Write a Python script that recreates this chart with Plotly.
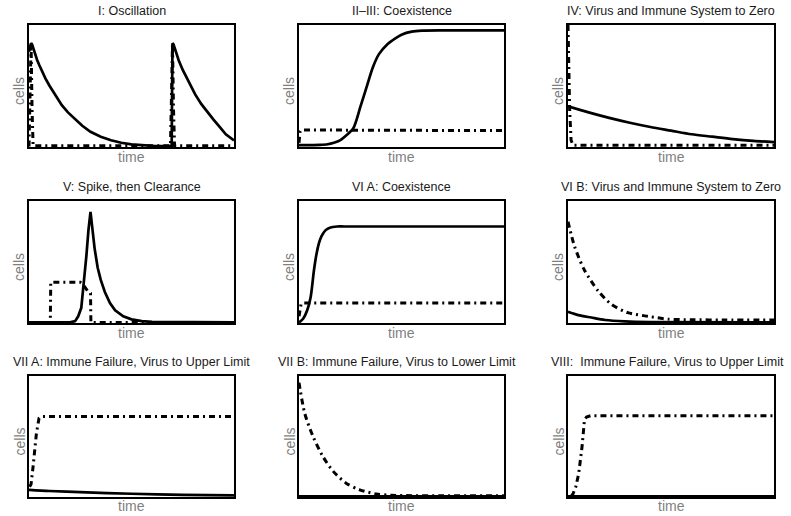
import plotly.graph_objects as go

# ---------------- data (time 0..100, cells normalised 0..1) ----------------
titles = ["I: Oscillation", "II\u2013III: Coexistence", "IV: Virus and Immune System to Zero",
          "V: Spike, then Clearance", "VI A: Coexistence", "VI B: Virus and Immune System to Zero",
          "VII A: Immune Failure, Virus to Upper Limit", "VII B: Immune Failure, Virus to Lower Limit",
          "VIII:  Immune Failure, Virus to Upper Limit"]

# I: Oscillation
p1_t_solid = [0, 0.5, 1, 1.5, 2, 3, 4, 5, 6, 8, 10, 12, 14, 16, 19, 22, 26, 30, 35, 40, 45, 50,
              55, 60, 65, 69.6, 69.8, 70, 70.5, 71, 72, 73, 75, 77, 79, 81, 84, 87, 90, 93, 96, 100]
p1_solid = [0.78, 0.83, 0.85, 0.84, 0.81, 0.76, 0.71, 0.67, 0.63, 0.56, 0.50, 0.45, 0.39, 0.34,
            0.28, 0.23, 0.17, 0.12, 0.08, 0.05, 0.03, 0.017, 0.009, 0.005, 0.003, 0.002,
            0.45, 0.85, 0.84, 0.81, 0.76, 0.71, 0.63, 0.56, 0.49, 0.43, 0.35, 0.28, 0.22, 0.16,
            0.10, 0.05]
p1_t_dd = [0, 0.5, 1.0, 1.5, 2.0, 30, 69.0, 69.5, 70.0, 70.5, 71.0, 100]
p1_dd = [0.0, 0.5, 0.85, 0.3, 0.005, 0.005, 0.005, 0.4, 0.85, 0.3, 0.005, 0.005]

# II-III: Coexistence
p2_t_solid = [0, 5, 10, 14, 17, 20, 23, 26.5, 30, 33, 36, 39, 43, 47, 50, 55, 60, 70, 80, 90, 100]
p2_solid = [0.01, 0.011, 0.013, 0.018, 0.03, 0.05, 0.09, 0.15, 0.33, 0.49, 0.65, 0.76, 0.84,
            0.89, 0.92, 0.945, 0.953, 0.955, 0.955, 0.955, 0.955]
p2_t_dd = [0, 0.5, 1, 10, 20, 30, 40, 100]
p2_dd = [0.03, 0.12, 0.135, 0.135, 0.135, 0.133, 0.13, 0.13]

# IV: Virus and Immune System to Zero
p3_t_solid = [0, 10, 20, 30, 40, 50, 60, 70, 80, 90, 100]
p3_solid = [0.33, 0.28, 0.235, 0.195, 0.16, 0.13, 0.10, 0.08, 0.06, 0.045, 0.035]
p3_t_dd = [0, 0.3, 0.8, 1.5, 2.5, 100]
p3_dd = [1.0, 0.7, 0.3, 0.05, 0.01, 0.01]

# V: Spike, then Clearance
p4_t_solid = [0, 20, 22.5, 24, 25.5, 27, 28, 29, 30, 31, 32, 33.5, 35, 37, 39.5, 42, 46, 50,
              55, 60, 100]
p4_solid = [0, 0, 0.01, 0.05, 0.12, 0.35, 0.55, 0.76, 0.91, 0.76, 0.61, 0.45, 0.35, 0.25,
            0.16, 0.10, 0.05, 0.025, 0.01, 0.004, 0]
p4_t_dd = [0, 10.4, 10.6, 15, 20, 25, 26.5, 28.5, 30, 30.2, 40, 100]
p4_dd = [0, 0, 0.33, 0.33, 0.33, 0.33, 0.31, 0.26, 0.24, 0, 0, 0]

# VI A: Coexistence
p5_t_solid = [0, 2, 4, 5.7, 7.3, 8.5, 9.7, 11, 13, 15, 18.6, 22, 30, 100]
p5_solid = [0, 0.03, 0.10, 0.21, 0.43, 0.56, 0.65, 0.71, 0.76, 0.78, 0.79, 0.79, 0.79, 0.79]
p5_t_dd = [0, 0.5, 1, 1.6, 3, 100]
p5_dd = [0.05, 0.12, 0.15, 0.16, 0.16, 0.16]

# VI B: Virus and Immune System to Zero
p6_t_solid = [0, 5, 11.3, 18, 27.5, 40, 100]
p6_solid = [0.087, 0.06, 0.04, 0.02, 0.008, 0.002, 0]
p6_t_dd = [0, 3.2, 8, 14.6, 21, 29, 39, 48.5, 60, 75, 100]
p6_dd = [0.83, 0.625, 0.43, 0.26, 0.15, 0.08, 0.05, 0.027, 0.022, 0.02, 0.02]

# VII A: Immune Failure, Virus to Upper Limit
p7_t_solid = [0, 10, 25, 50, 75, 100]
p7_solid = [0.055, 0.045, 0.035, 0.022, 0.013, 0.008]
p7_t_dd = [0.3, 1, 2, 3.6, 4.9, 6, 10, 100]
p7_dd = [0.08, 0.10, 0.25, 0.52, 0.65, 0.663, 0.663, 0.663]

# VII B: Immune Failure, Virus to Lower Limit
p8_t_solid = [0, 100]
p8_solid = [0, 0]
p8_t_dd = [0, 2.8, 6.8, 11.7, 16.6, 23, 29.6, 37.7, 45, 55, 70, 100]
p8_dd = [0.945, 0.69, 0.50, 0.33, 0.21, 0.11, 0.055, 0.02, 0.01, 0.006, 0.005, 0.005]

# VIII: Immune Failure, Virus to Upper Limit
p9_t_solid = [0, 100]
p9_solid = [0, 0]
p9_t_dd = [1.5, 2.4, 3.8, 5.2, 6.8, 8, 9, 11, 100]
p9_dd = [0.0, 0.02, 0.08, 0.19, 0.41, 0.635, 0.66, 0.67, 0.67]

panels = [
    (p1_t_solid, p1_solid, p1_t_dd, p1_dd),
    (p2_t_solid, p2_solid, p2_t_dd, p2_dd),
    (p3_t_solid, p3_solid, p3_t_dd, p3_dd),
    (p4_t_solid, p4_solid, p4_t_dd, p4_dd),
    (p5_t_solid, p5_solid, p5_t_dd, p5_dd),
    (p6_t_solid, p6_solid, p6_t_dd, p6_dd),
    (p7_t_solid, p7_solid, p7_t_dd, p7_dd),
    (p8_t_solid, p8_solid, p8_t_dd, p8_dd),
    (p9_t_solid, p9_solid, p9_t_dd, p9_dd),
]
solid_shape = ["linear", "spline", "spline", "linear", "spline", "spline", "spline", "linear", "linear"]
dd_shape = ["linear", "linear", "linear", "linear", "linear", "spline", "linear", "spline", "linear"]

# ---------------- layout geometry (window pixels) ----------------
W, H = 791, 516
col_px = [(29, 234), (299, 504), (568, 774)]
row_px = [(25, 147), (201, 323), (376, 497)]
title_y_px = [11, 187, 362]
time_y_px = [157, 333, 506]
title_dx = [0, 0, 0, 0, 0, 0, 0, -5, -4]


def px_x(p):
    return p / W


def px_y(p):
    return 1 - p / H


fig = go.Figure()
FONT = "Liberation Sans, Arial, sans-serif"
layout = dict(
    width=W, height=H, margin=dict(l=0, r=0, t=0, b=0),
    paper_bgcolor="white", plot_bgcolor="white", showlegend=False,
    font=dict(family=FONT),
)
annotations = []

for i, (ts, ys, td, yd) in enumerate(panels):
    r, c = divmod(i, 3)
    n = "" if i == 0 else str(i + 1)
    x0, x1 = col_px[c]
    y0, y1 = row_px[r]
    layout["xaxis" + n] = dict(domain=[px_x(x0), px_x(x1)], range=[0, 100], anchor="y" + n,
                               showline=True, mirror=True, linecolor="black", linewidth=1.5,
                               showticklabels=False, ticks="", showgrid=False, zeroline=False)
    layout["yaxis" + n] = dict(domain=[px_y(y1), px_y(y0)], range=[-0.005, 1.0],
                               anchor="x" + n,
                               showline=True, mirror=True, linecolor="black", linewidth=1.5,
                               showticklabels=False, ticks="", showgrid=False, zeroline=False)
    fig.add_trace(go.Scatter(x=ts, y=ys, mode="lines", xaxis="x" + n, yaxis="y" + n,
                             line=dict(color="black", width=2.7, shape=solid_shape[i],
                                       smoothing=0.8)))
    fig.add_trace(go.Scatter(x=td, y=yd, mode="lines", xaxis="x" + n, yaxis="y" + n,
                             line=dict(color="black", width=3, dash="6px,4px,2px,4px",
                                       shape=dd_shape[i], smoothing=0.8)))
    cx = (x0 + x1) / 2
    annotations.append(dict(text=titles[i], x=px_x(cx + title_dx[i]), y=px_y(title_y_px[r]),
                            xref="paper", yref="paper", showarrow=False,
                            xanchor="center", yanchor="middle",
                            font=dict(size=12.5, color="#1a1a1a", family=FONT)))
    annotations.append(dict(text="time", x=px_x(cx), y=px_y(time_y_px[r]), xref="paper",
                            yref="paper", showarrow=False, xanchor="center", yanchor="middle",
                            font=dict(size=14, color="#7f7f7f", family=FONT)))
    annotations.append(dict(text="cells", x=px_x(x0 - 10), y=px_y((y0 + y1) / 2 + 5),
                            xref="paper", yref="paper", showarrow=False, textangle=-90,
                            xanchor="center", yanchor="middle",
                            font=dict(size=14, color="#7f7f7f", family=FONT)))

layout["annotations"] = annotations
fig.update_layout(**layout)
fig.write_html("out.html", config={"displayModeBar": False},
               post_script="document.body.style.margin='0';document.body.style.overflow='hidden';")
